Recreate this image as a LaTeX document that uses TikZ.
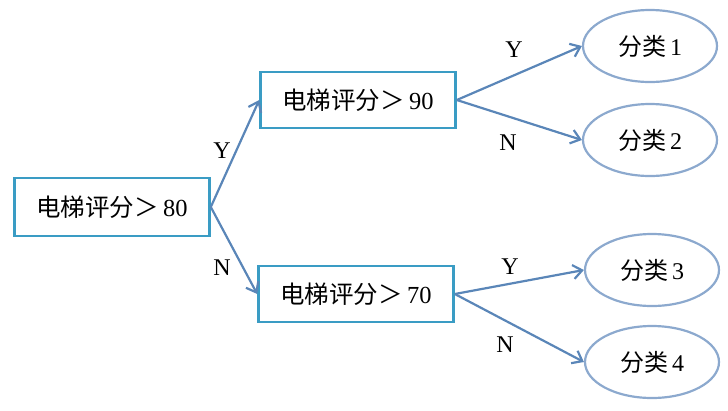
\documentclass[tikz,border=0pt]{standalone}
\usepackage{fontspec}
\setmainfont{Liberation Serif}
\newfontfamily\cjk{Noto Sans CJK SC}
\usetikzlibrary{shapes.geometric,arrows.meta}
\definecolor{boxc}{HTML}{3A9CC4}
\definecolor{arrc}{HTML}{5A86B8}
\definecolor{ellc}{HTML}{8CA9CE}
\tikzset{
  decbox/.style={draw=boxc,line width=2.6pt,minimum width=195pt,minimum height=56pt,inner sep=0pt,font=\fontsize{24.5}{27}\selectfont},
  leaf/.style={ellipse,draw=ellc,line width=2.2pt,minimum width=134pt,minimum height=72pt,inner sep=0pt,font=\fontsize{24}{27}\selectfont},
  conn/.style={draw=arrc,line width=2.2pt,-{Straight Barb[length=9pt,width=14pt,line width=2.2pt]}},
  lab/.style={font=\fontsize{24}{26}\selectfont,inner sep=0pt}
}
\begin{document}
\begin{tikzpicture}[x=1pt,y=-1pt]
\useasboundingbox (0,0) rectangle (728,410);
\node[decbox,minimum height=58pt] (b1) at (112,207) {{\cjk 电梯评分＞}\,80};
\node[decbox] (b2) at (358,100) {{\cjk 电梯评分＞}\,90};
\node[decbox] (b3) at (356,294) {{\cjk 电梯评分＞}\,70};
\node[leaf] (e1) at (650,46) {{\cjk 分类}\,1};
\node[leaf] (e2) at (650,140) {{\cjk 分类}\,2};
\node[leaf] (e3) at (652,270) {{\cjk 分类}\,3};
\node[leaf] (e4) at (652,362) {{\cjk 分类}\,4};
\draw[conn] (b1.east) -- (b2.west);
\draw[conn] (b1.east) -- (b3.west);
\draw[conn] (b2.east) -- (e1.west);
\draw[conn] (b2.east) -- (e2.west);
\draw[conn] (b3.east) -- (e3.west);
\draw[conn] (b3.east) -- (e4.west);
\node[lab] (y1) at (222,151) {Y};
\node[lab] (n1) at (222,268) {N};
\node[lab] (y2) at (514,50) {Y};
\node[lab] (n2) at (508,143) {N};
\node[lab] (y3) at (510,267) {Y};
\node[lab] (n3) at (505,345) {N};
\end{tikzpicture}
\end{document}
